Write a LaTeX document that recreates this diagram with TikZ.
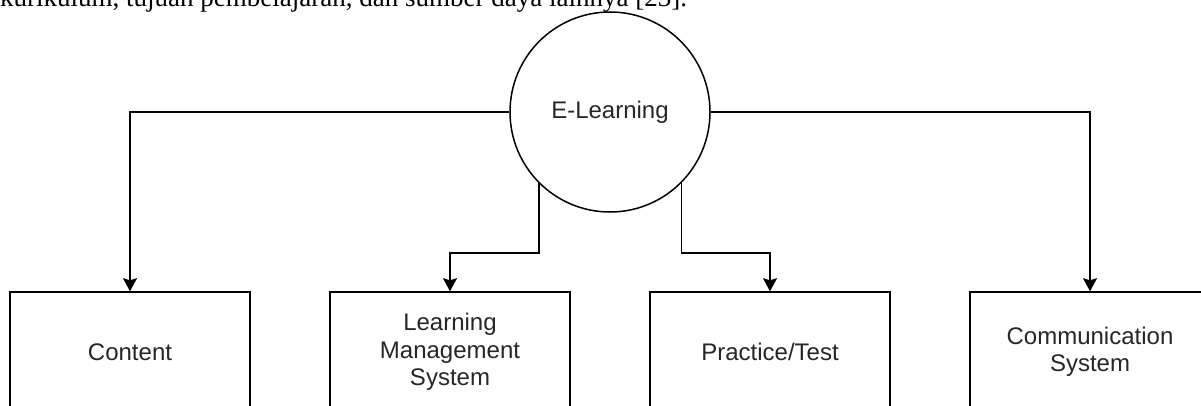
\documentclass[tikz,border=0pt]{standalone}
\usepackage{fontspec}
\setmainfont{Liberation Serif}
\newfontfamily\diagfont{Liberation Sans}
\usetikzlibrary{arrows.meta}
\tikzset{
  lbl/.style={font=\diagfont\fontsize{24}{27.5}\selectfont, text=black!85, align=center},
  boxnode/.style={lbl, draw=black, line width=1.5pt, minimum width=240pt, minimum height=120pt, inner sep=0pt},
  hub/.style={lbl, draw=black, line width=1.5pt, circle, minimum size=200pt, inner sep=0pt},
  conn/.style={draw=black, line width=1.5pt, -{Stealth[length=13pt,width=14pt,inset=2pt]}},
}
\begin{document}
\begin{tikzpicture}[x=1pt,y=-1pt]
\useasboundingbox (0,0) rectangle (1201,406);
\clip (0,0) rectangle (1201,406);
\node[anchor=base west, inner sep=0pt, font=\fontsize{27}{30}\selectfont] (para) at (0,7) {kurikulum, tujuan pembelajaran, dan sumber daya lainnya [23].};
\node[hub] (el) at (610,112) {E-Learning};
\node[boxnode] (ct) at (130,352) {Content};
\node[boxnode] (lms) at (450,352) {Learning\\Management\\System};
\node[boxnode] (pt) at (770,352) {Practice/Test};
\node[boxnode] (cs) at (1090,352) {Communication\\System};
\draw[conn] (el.west) -| (ct.north);
\draw[conn] (el.east) -| (cs.north);
\draw[conn] (el.south west) -- ++(0,70) -| (lms.north);
\draw[conn] (el.south east) -- ++(0,70) -| (pt.north);
\end{tikzpicture}
\end{document}
